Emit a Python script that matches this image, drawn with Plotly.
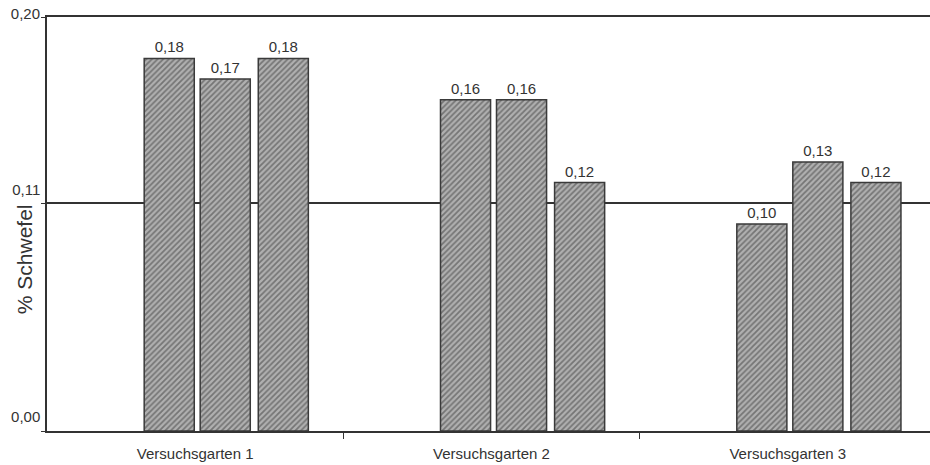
import plotly.graph_objects as go

groups = ["Versuchsgarten 1", "Versuchsgarten 2", "Versuchsgarten 3"]
series1 = [0.18, 0.16, 0.10]
series2 = [0.17, 0.16, 0.13]
series3 = [0.18, 0.12, 0.12]
y_ticks = [0.0, 0.11, 0.20]
y_ticktext = ["0,00", "0,11", "0,20"]

gx = [0, 1, 2]
offsets = [-0.172, 0.017, 0.213]
yaxes_for = ["y", "y", "y2"]
width = 0.169
FONT = "Liberation Sans, Arial, sans-serif"

fig = go.Figure()
for vals, off, ya in zip([series1, series2, series3], offsets, yaxes_for):
    fig.add_trace(go.Bar(
        x=gx, y=vals, offset=off, width=width, yaxis=ya,
        marker=dict(color="#a8a8a8",
                    line=dict(color="#3a3a3a", width=1.5),
                    pattern=dict(shape="/", fgcolor="#3a3a3a", bgcolor="#b0b0b0",
                                 size=4, solidity=0.45)),
        text=[f"{v:.2f}".replace(".", ",") for v in vals],
        textposition="outside", cliponaxis=False,
        textfont=dict(family=FONT, size=15, color="#333333"),
        showlegend=False, hoverinfo="skip",
    ))

fig.update_layout(
    width=930, height=465,
    margin=dict(l=47, r=0, t=17, b=34),
    paper_bgcolor="white", plot_bgcolor="white",
    font=dict(family=FONT, size=14, color="#333333"),
    separators=",.",
    uniformtext=dict(minsize=15),
    annotations=[dict(
        text="% Schwefel", textangle=-90, showarrow=False,
        xref="paper", yref="y", x=0, y=0.083, xshift=-23,
        xanchor="center", yanchor="middle",
        font=dict(size=21, color="#333333"),
    )],
    # overlaid axis (same scale) that carries the top tick label beside its line
    yaxis2=dict(
        overlaying="y", side="left", range=[0, 0.2],
        tickvals=y_ticks[2:], ticktext=y_ticktext[2:], ticks="",
        showline=False, showgrid=False, zeroline=False,
        ticklabelstandoff=6, ticklabelshift=-3, automargin=False,
        ticklabeloverflow="allow",
        tickfont=dict(family=FONT, size=15, color="#333333"),
    ),
)
fig.update_xaxes(
    range=[-0.5, 2.48], tickvals=gx, ticktext=groups, ticks="",
    showline=True, linecolor="#333333", linewidth=1.5, mirror=True,
    showgrid=False, zeroline=False, ticklabelstandoff=8, automargin=False,
    tickfont=dict(size=15),
    minor=dict(tickvals=[0.5, 1.5], ticks="outside", ticklen=6,
               tickcolor="#333333", tickwidth=1.2, showgrid=False),
)
fig.layout.yaxis.update(
    range=[0, 0.2], tickvals=y_ticks, ticktext=y_ticktext[:2] + [""],
    ticks="outside", ticklen=4, tickcolor="#333333",
    showline=True, linecolor="#333333", linewidth=1.5,
    showgrid=True, gridcolor="#333333", gridwidth=1.5, zeroline=False,
    ticklabelposition="outside top", ticklabelstandoff=2, automargin=False,
    ticklabeloverflow="allow", ticklabelshift=-3,
    tickfont=dict(size=15),
)
fig.write_html("out.html", config={"displayModeBar": False},
               post_script="document.body.style.margin='0';")
